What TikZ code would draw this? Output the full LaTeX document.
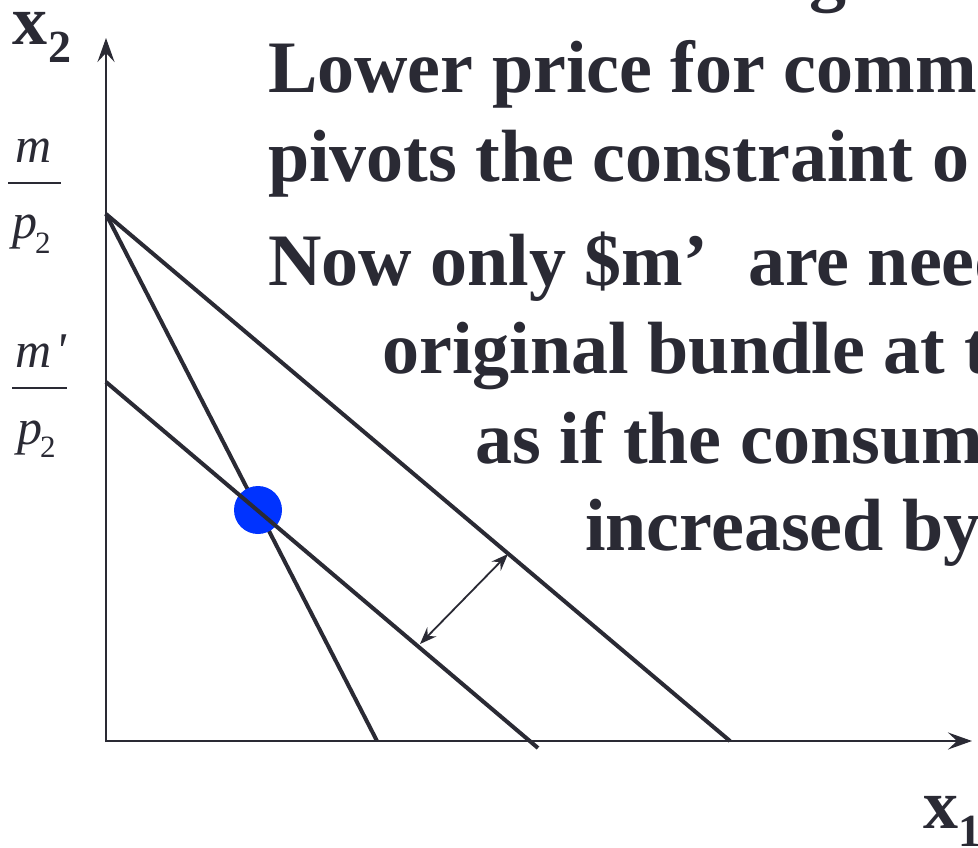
\documentclass[tikz,border=0pt]{standalone}
\usepackage{fontspec}
\setmainfont{Liberation Serif}
\newfontfamily\primefont{Liberation Serif}
\usetikzlibrary{arrows.meta}
\definecolor{ink}{RGB}{42,42,52}
\definecolor{dotblue}{RGB}{0,51,255}
\tikzset{
  axisline/.style={draw=ink, line width=2.4pt, -{Stealth[length=24pt,width=17pt,inset=9pt]}},
  budget/.style={draw=ink, line width=4pt},
  shiftarrow/.style={draw=ink, line width=1.8pt, {Stealth[length=17pt,width=13pt,inset=6pt]}-{Stealth[length=17pt,width=13pt,inset=6pt]}},
  txt/.style={text=ink, inner sep=0pt, anchor=base west, font=\bfseries\fontsize{74}{74}\selectfont},
  mathlbl/.style={text=ink, inner sep=0pt, anchor=base west, font=\itshape\fontsize{50}{50}\selectfont},
  subs/.style={text=ink, inner sep=0pt, anchor=base west, font=\fontsize{31}{31}\selectfont},
  axlbl/.style={text=ink, inner sep=0pt, anchor=base west, font=\bfseries\fontsize{70}{70}\selectfont},
  axsub/.style={text=ink, inner sep=0pt, anchor=base west, font=\bfseries\fontsize{46}{46}\selectfont},
  fracbar/.style={draw=ink, line width=2.4pt}
}
\begin{document}
\begin{tikzpicture}[x=1pt,y=-1pt]
\useasboundingbox (0,0) rectangle (978,848);
\clip (0,0) rectangle (978,848);
\fill[white] (0,0) rectangle (978,848);
% coordinates
\coordinate (O) at (106,741);
\coordinate (Ytop) at (106,38);
\coordinate (Xtip) at (972,741);
\coordinate (A) at (106,214);
\coordinate (B) at (730,741);
\coordinate (C) at (377,741);
\coordinate (D) at (106,382);
\coordinate (E) at (538,748);
\coordinate (F) at (508,554);
\coordinate (G) at (420,644);
% axes
\draw[axisline] (106,742) -- (Ytop);
\draw[axisline] (O) -- (Xtip);
% budget lines
\draw[budget] (A) -- (B);
\draw[budget] (A) -- (C);
\node[circle, fill=dotblue, minimum size=48pt, inner sep=0pt] (dot) at (258,510) {};
\draw[budget] (D) -- (E);
% shift arrow
\draw[shiftarrow] (G) -- (F);
% axis labels
\node[axlbl] (x2) at (12,45) {x};
\node[axsub] (x2s) at (48,63) {2};
\node[axlbl] (x1) at (923,828) {x};
\node[axsub] (x1s) at (958,846) {1};
% m/p2
\node[mathlbl] (m1) at (15,163) {m};
\draw[fracbar] (8,183) -- (61,183);
\node[mathlbl] (p1) at (12,239) {p};
\node[subs] (p1s) at (35,253) {2};
% m'/p2
\node[mathlbl] (m2) at (15,367) {m\kern4pt{\primefont\itshape '}};
\draw[fracbar] (12,388) -- (67,388);
\node[mathlbl] (p2) at (17,444) {p};
\node[subs] (p2s) at (40,457) {2};
% text
\node[txt] (g) at (809,-2) {g};
\node[txt] (l1) at (268,93) {Lower price for comm};
\node[txt] (l2) at (268,182) {pivots the constraint o};
\node[txt] (l3) at (268,285) {Now only \$m’\kern 40pt are need};
\node[txt] (l4) at (382,373) {original bundle at t};
\node[txt] (l5) at (475,463) {as if the consum};
\node[txt] (l6) at (585,550) {increased by};
\end{tikzpicture}
\end{document}
